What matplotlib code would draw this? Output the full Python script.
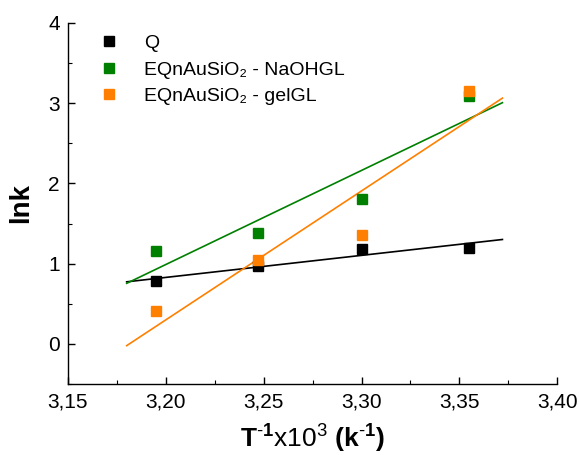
import numpy as np
import matplotlib
matplotlib.use("Agg")
import matplotlib.pyplot as plt
from matplotlib.ticker import MultipleLocator, FuncFormatter

plt.rcParams['font.family'] = ['Liberation Sans', 'DejaVu Sans']
plt.rcParams['mathtext.fontset'] = 'custom'
plt.rcParams['mathtext.rm'] = 'Liberation Sans'
plt.rcParams['mathtext.bf'] = 'Liberation Sans:bold'
plt.rcParams['mathtext.it'] = 'Liberation Sans:italic'

# data (1/T x 10^3 vs lnk)
inv_t = [3.195, 3.247, 3.300, 3.355]
lnk_q = [0.78, 0.97, 1.18, 1.20]
lnk_naoh = [1.16, 1.38, 1.81, 3.09]
lnk_gel = [0.41, 1.05, 1.36, 3.15]

labels = ['Q', 'EQnAuSiO\u2082 - NaOHGL', 'EQnAuSiO\u2082 - gelGL']
colors = ['black', '#008000', '#FF8000']
fit_range = (3.18, 3.372)

fig = plt.figure(figsize=(5.79, 4.59), dpi=100)
ax = fig.add_axes([0.1174, 0.1634, 0.845, 0.7866])

xfit = np.linspace(fit_range[0], fit_range[1], 50)
for y, lab, c in zip([lnk_q, lnk_naoh, lnk_gel], labels, colors):
    ax.plot(inv_t, y, 's', color=c, markersize=7, label=lab, zorder=3)
    k, b = np.polyfit(inv_t, y, 1)
    ax.plot(xfit, k * xfit + b, '-', color=c, linewidth=1.2, zorder=2)

ax.set_xlim(3.15, 3.40)
ax.set_ylim(-0.5, 4)
ax.xaxis.set_major_locator(MultipleLocator(0.05))
ax.xaxis.set_minor_locator(MultipleLocator(0.025))
ax.yaxis.set_major_locator(MultipleLocator(1))
ax.yaxis.set_minor_locator(MultipleLocator(0.5))
ax.xaxis.set_major_formatter(FuncFormatter(lambda v, p: f'{v:.2f}'.replace('.', ',')))
ax.yaxis.set_major_formatter(FuncFormatter(lambda v, p: f'{v:.0f}'))

for s in ['top', 'right']:
    ax.spines[s].set_visible(False)
for s in ['left', 'bottom']:
    ax.spines[s].set_linewidth(1.0)

ax.tick_params(which='major', direction='in', length=5, width=1, labelsize=15, pad=6)
ax.tick_params(which='minor', direction='in', length=3, width=0.8)

ax.set_xlabel(r'$\mathbf{T^{\text{-}1}}\mathrm{x10^{3}}\ \mathbf{(k^{\text{-}1})}$',
              fontsize=19, labelpad=8)
ax.set_ylabel('lnk', fontsize=20, fontweight='bold', labelpad=10)

ax.legend(loc='upper left', bbox_to_anchor=(0.04, 1.0), frameon=False, fontsize=14,
          numpoints=1, handlelength=1.0, handletextpad=1.3, labelspacing=0.45,
          borderaxespad=0.2)

fig.savefig('out.png', dpi=100)
